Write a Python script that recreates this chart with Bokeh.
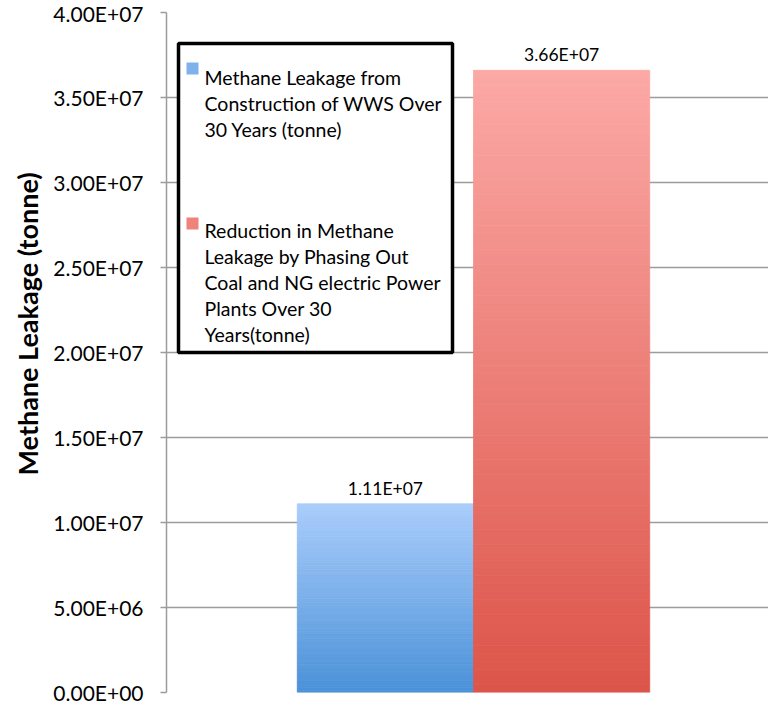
from bokeh.plotting import figure
from bokeh.models import Range1d, FixedTicker, BoxAnnotation, Label, Title
from bokeh.embed import file_html
from bokeh.resources import INLINE

# ---- data -------------------------------------------------------------
series_names = [
    "Methane Leakage from Construction of WWS Over 30 Years (tonne)",
    "Reduction in Methane Leakage by Phasing Out Coal and NG electric Power Plants Over 30 Years(tonne)",
]
legend_lines = [
    ["Methane Leakage from", "Construction of WWS Over", "30 Years (tonne)"],
    ["Reduction in Methane", "Leakage by Phasing Out", "Coal and NG electric Power",
     "Plants Over 30", "Years(tonne)"],
]
series_values = [1.11e7, 3.66e7]
y_ticks = [0, 5e6, 1e7, 1.5e7, 2e7, 2.5e7, 3e7, 3.5e7, 4e7]
y_tick_labels = ["0.00E+00", "5.00E+06", "1.00E+07", "1.50E+07", "2.00E+07",
                 "2.50E+07", "3.00E+07", "3.50E+07", "4.00E+07"]
y_title = "Methane Leakage (tonne)"

# gradient end colours for each series (top, bottom)
grad_top = [(170, 205, 251), (252, 169, 166)]
grad_bottom = [(74, 145, 216), (220, 84, 73)]

# ---- layout -----------------------------------------------------------
W, H = 768, 706
FL, FR, FT, FB = 166, 768, 12, 692
X0, X1 = -0.5, -0.5 + (FR - FL) / 614.0
Y0, Y1 = 0.0, 4e7
BAR_W = 0.287
FONT = "Lato"


def px_x(px):
    return X0 + (px - FL) / (FR - FL) * (X1 - X0)


def px_y(py):
    return Y1 - (py - FT) / (FB - FT) * (Y1 - Y0)


def mix(c0, c1, t):
    return "#%02x%02x%02x" % tuple(int(round(a + (b - a) * t)) for a, b in zip(c0, c1))


p = figure(width=W, height=H, output_backend="svg", toolbar_location=None,
           x_range=Range1d(X0, X1), y_range=Range1d(Y0, Y1),
           min_border_left=FL, min_border_right=0,
           min_border_top=FT, min_border_bottom=H - FB)
p.outline_line_color = None
p.background_fill_color = "white"
p.border_fill_color = "white"

# axes and grid
p.xaxis.visible = False
p.xgrid.visible = False
p.ygrid.ticker = FixedTicker(ticks=y_ticks)
p.ygrid.grid_line_color = "#9c9c9c"
p.ygrid.grid_line_width = 1.5

ax = p.yaxis[0]
ax.ticker = FixedTicker(ticks=y_ticks)
ax.major_label_overrides = {t: lab for t, lab in zip(y_ticks, y_tick_labels)}
ax.major_label_text_font = FONT
ax.major_label_text_font_size = "21px"
ax.major_label_text_color = "black"
ax.major_label_standoff = 17
ax.major_tick_in = 0
ax.major_tick_out = 6
ax.major_tick_line_color = "#9c9c9c"
ax.major_tick_line_width = 1.5
ax.minor_tick_line_color = None
ax.axis_line_color = "#9c9c9c"
ax.axis_line_width = 1.5

# y-axis title, placed as a left-side title so it can be nudged along the axis
p.add_layout(Title(text=y_title, align="left", offset=217, text_font=FONT,
                   text_font_size="27px", text_font_style="bold",
                   text_color="black", standoff=13), "left")

# bars with a vertical gradient, built as thin stacked slices of each value
N = 80
offsets = [-BAR_W / 2, BAR_W / 2]
for i, v in enumerate(series_values):
    bottoms = [v * k / N for k in range(N)]
    tops = [v * (k + 1) / N for k in range(N)]
    cols = [mix(grad_bottom[i], grad_top[i], (k + 0.5) / N) for k in range(N)]
    xs = [offsets[i]] * N
    p.vbar(x=xs, bottom=bottoms, top=tops, width=BAR_W,
           fill_color=cols, line_color=cols, line_width=0.8)
    p.add_layout(Label(x=offsets[i], y=v, text="%.2E" % v, text_align="center",
                       text_baseline="alphabetic", y_offset=15.5,
                       text_font=FONT, text_font_size="17.5px", text_color="black"))

# legend box
p.add_layout(BoxAnnotation(left=px_x(178), right=px_x(452), top=px_y(43), bottom=px_y(352),
                           fill_color="white", fill_alpha=1.0,
                           line_color="black", line_alpha=1.0, line_width=3.5))

swatch_top = [62, 217]
first_base = [77, 230]
LINE_H = 26
for i in range(len(series_values)):
    sy = swatch_top[i]
    p.add_layout(BoxAnnotation(left=px_x(186), right=px_x(198), top=px_y(sy), bottom=px_y(sy + 12),
                               fill_color=mix(grad_bottom[i], grad_top[i], 0.55), fill_alpha=1.0,
                               line_color=None))
    for j, line in enumerate(legend_lines[i]):
        p.add_layout(Label(x=px_x(204), y=px_y(first_base[i] + j * LINE_H), text=line,
                           text_align="left", text_baseline="alphabetic",
                           text_font=FONT, text_font_size="19.5px", text_color="black"))

open("out.html", "w").write(file_html(p, INLINE))
